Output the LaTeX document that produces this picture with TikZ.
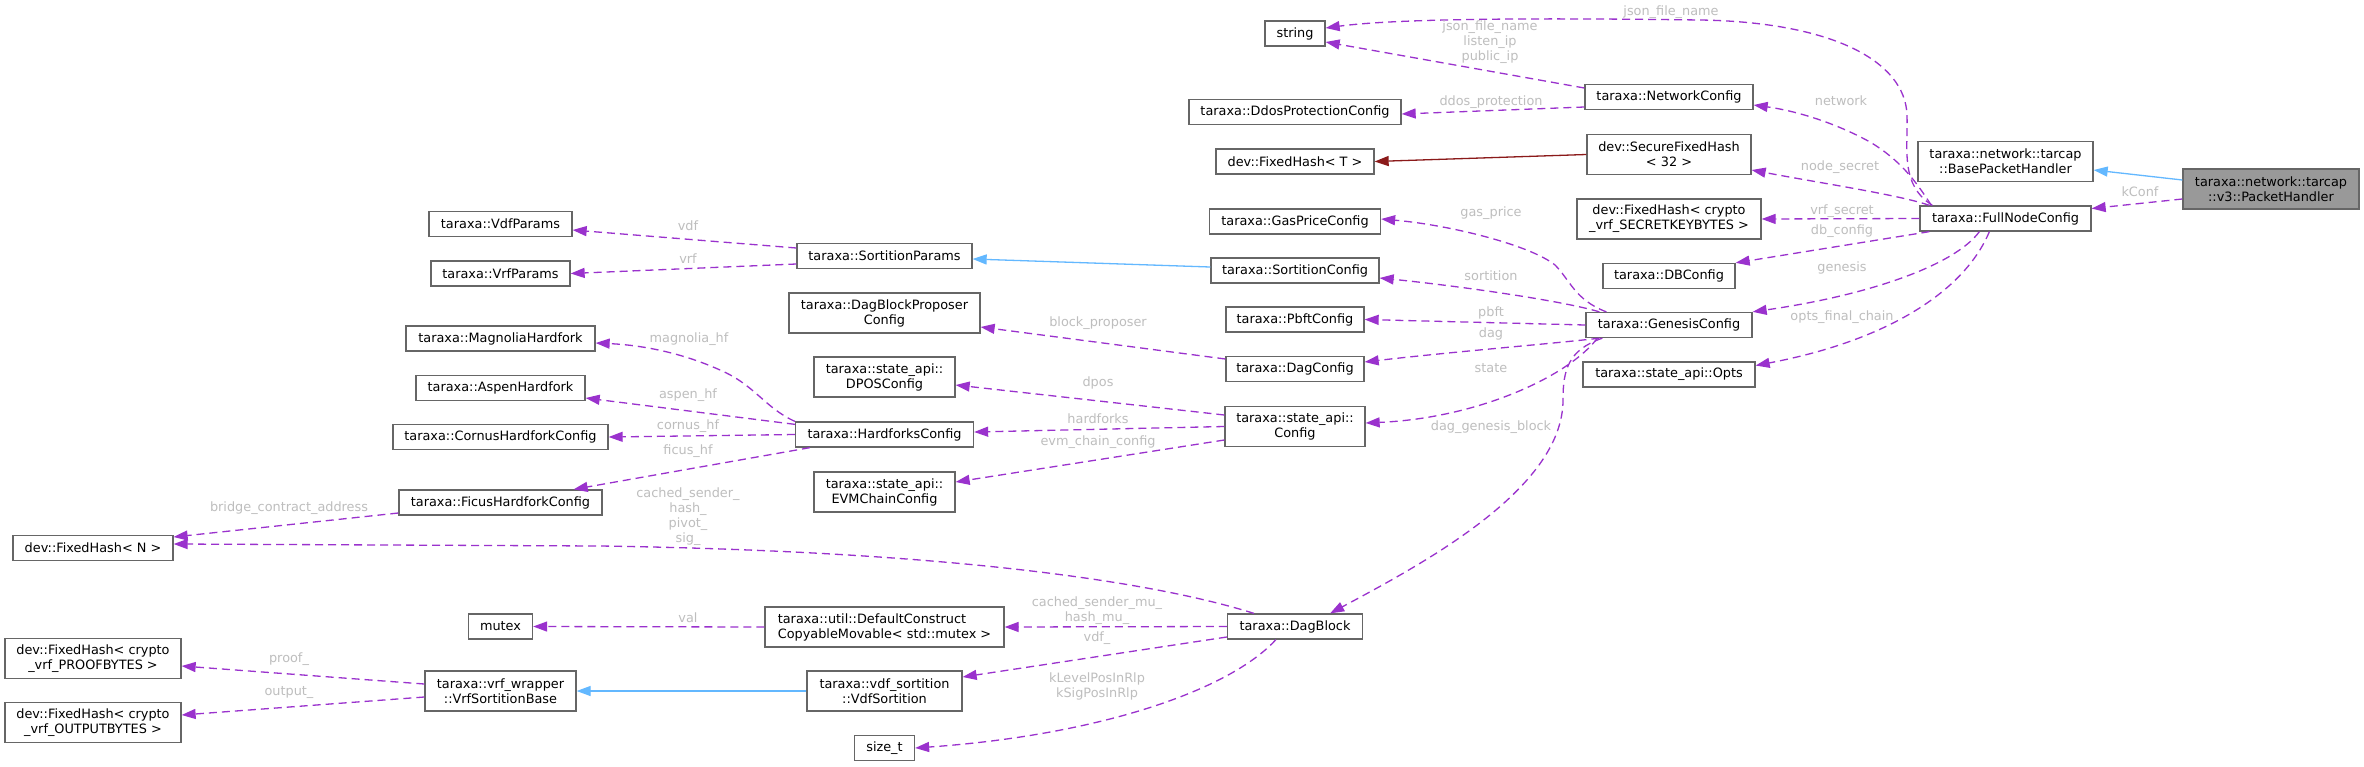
\documentclass[tikz,border=0pt]{standalone}
\usepackage{fontspec}
\setmainfont{DejaVu Sans}
\usetikzlibrary{arrows.meta}
\definecolor{boxgray}{HTML}{666666}
\definecolor{purp}{HTML}{9A32CD}
\definecolor{inhblue}{HTML}{63B8FF}
\definecolor{tred}{HTML}{8B1A1A}
\definecolor{lblgray}{HTML}{BEBEBE}
\definecolor{curgray}{HTML}{999999}
\begin{document}
\begin{tikzpicture}[x=1pt,y=-1pt,
  box/.style={draw=boxgray, line width=1.3pt, fill=white, font=\fontsize{12.85}{15}\selectfont, minimum height=25pt, inner xsep=3pt, inner ysep=2pt, align=center, text=black},
  box2/.style={box, minimum height=40pt},
  lbl/.style={font=\fontsize{12.85}{15}\selectfont, text=lblgray, align=center, inner sep=0pt},
  memb/.style={draw=purp, line width=1.3pt, dash pattern=on 8pt off 5pt, -{Triangle[length=14pt,width=10pt]}},
  inher/.style={draw=inhblue, line width=1.3pt, -{Triangle[length=14pt,width=10pt]}},
  tinst/.style={draw=tred, line width=1.3pt, -{Triangle[length=14pt,width=10pt]}}
]
\path[fill=white] (0,0) rectangle (2364,766);
\useasboundingbox (0,0) rectangle (2364,766);

% nodes
\node[box2, fill=curgray, minimum width=176pt] (ph) at (2271,189) {taraxa::network::tarcap\\::v3::PacketHandler};
\node[box2, minimum width=175pt] (bph) at (2005.5,161.5) {taraxa::network::tarcap\\::BasePacketHandler};
\node[box, minimum width=171pt] (fnc) at (2005.5,218.5) {taraxa::FullNodeConfig};

\node[box, minimum width=60pt] (str) at (1295,33.5) {string};
\node[box, minimum width=212pt] (ddos) at (1295,112) {taraxa::DdosProtectionConfig};
\node[box, minimum width=158pt] (fht) at (1295,161.5) {dev::FixedHash< T >};
\node[box, minimum width=171pt] (gas) at (1295,221.5) {taraxa::GasPriceConfig};
\node[box, minimum width=168pt] (sc) at (1295,270.5) {taraxa::SortitionConfig};
\node[box, minimum width=138pt] (pbft) at (1295,319.5) {taraxa::PbftConfig};
\node[box, minimum width=138pt] (dagc) at (1295,369) {taraxa::DagConfig};
\node[box2, minimum width=140pt] (cfg) at (1295,426.5) {taraxa::state\_api::\\Config};
\node[box, minimum width=135pt] (dagb) at (1295,626.5) {taraxa::DagBlock};

\node[box, minimum width=168pt] (net) at (1669,97) {taraxa::NetworkConfig};
\node[box2, minimum width=164pt] (sfh) at (1669,154.5) {dev::SecureFixedHash\\< 32 >};
\node[box2, minimum width=184pt] (fhsk) at (1669,219) {dev::FixedHash< crypto\\\_vrf\_SECRETKEYBYTES >};
\node[box, minimum width=132pt] (dbc) at (1669,276) {taraxa::DBConfig};
\node[box, minimum width=166pt] (gen) at (1669,325) {taraxa::GenesisConfig};
\node[box, minimum width=172pt] (opts) at (1669,374.5) {taraxa::state\_api::Opts};

\node[box, minimum width=175pt] (sp) at (884.5,256) {taraxa::SortitionParams};
\node[box2, minimum width=191pt] (dbp) at (884.5,313) {taraxa::DagBlockProposer\\Config};
\node[box2, minimum width=141pt] (dpos) at (884.5,377) {taraxa::state\_api::\\DPOSConfig};
\node[box, minimum width=178pt] (hfc) at (884.5,434.5) {taraxa::HardforksConfig};
\node[box2, minimum width=141pt] (evm) at (884.5,492) {taraxa::state\_api::\\EVMChainConfig};
\node[box2, minimum width=239pt, align=left] (dcm) at (884.5,627) {taraxa::util::DefaultConstruct\\CopyableMovable< std::mutex >};
\node[box2, minimum width=155pt] (vdfs) at (884.5,691) {taraxa::vdf\_sortition\\::VdfSortition};
\node[box, minimum width=60pt] (sizet) at (884.5,748) {size\_t};

\node[box, minimum width=143pt] (vdfp) at (500.5,224) {taraxa::VdfParams};
\node[box, minimum width=139pt] (vrfp) at (500.5,273.5) {taraxa::VrfParams};
\node[box, minimum width=189pt] (mag) at (500.5,338.5) {taraxa::MagnoliaHardfork};
\node[box, minimum width=169pt] (asp) at (500.5,388) {taraxa::AspenHardfork};
\node[box, minimum width=215pt] (cor) at (500.5,437) {taraxa::CornusHardforkConfig};
\node[box, minimum width=203pt] (fic) at (500.5,502.5) {taraxa::FicusHardforkConfig};
\node[box, minimum width=64pt] (mtx) at (500.5,626.5) {mutex};
\node[box2, minimum width=151pt] (vsb) at (500.5,691) {taraxa::vrf\_wrapper\\::VrfSortitionBase};

\node[box, minimum width=160pt] (fhn) at (93,548) {dev::FixedHash< N >};
\node[box2, minimum width=176pt] (fhp) at (93,658.5) {dev::FixedHash< crypto\\\_vrf\_PROOFBYTES >};
\node[box2, minimum width=176pt] (fho) at (93,722.5) {dev::FixedHash< crypto\\\_vrf\_OUTPUTBYTES >};

% edges
\draw[inher] ([yshift=9pt]ph.west) -- ([yshift=-8.5pt]bph.east);
\draw[memb] ([yshift=-10pt]ph.west) -- ([yshift=10pt]fnc.east);
\draw[memb] ([xshift=13pt]fnc.north west) .. controls (1900,185) and (1908,150) .. (1907,115) .. controls (1905,60) and (1830,22) .. (1700,20) .. controls (1550,18) and (1400,18) .. ([yshift=5.5pt]str.east);
\draw[memb] ([xshift=12pt]fnc.north west) .. controls (1915,180) and (1900,160) .. (1870,142) .. controls (1830,120) and (1790,110) .. ([yshift=-8pt]net.east);
\draw[memb] ([xshift=10pt]fnc.north west) .. controls (1900,195) and (1820,183) .. ([yshift=-15.5pt]sfh.east);
\draw[memb] (fnc.west) -- (fhsk.east);
\draw[memb] ([xshift=10pt]fnc.south west) -- (dbc.north east);
\draw[memb] ([xshift=60pt]fnc.south west) .. controls (1955,265) and (1870,295) .. (gen.north east);
\draw[memb] ([xshift=70pt]fnc.south west) .. controls (1965,290) and (1890,340) .. ([yshift=9pt]opts.east);

\draw[memb] ([yshift=9pt]net.west) -- ([yshift=-8.5pt]str.east);
\draw[memb] ([yshift=-10pt]net.west) -- ([yshift=-2pt]ddos.east);
\draw[tinst] (sfh.west) -- (fht.east);

\draw[memb] ([xshift=21pt]gen.north west) .. controls (1575,300) and (1570,280) .. (1555,265) .. controls (1530,245) and (1450,225) .. ([yshift=2.5pt]gas.east);
\draw[memb] ([xshift=14pt]gen.north west) .. controls (1560,300) and (1450,285) .. ([yshift=-7.5pt]sc.east);
\draw[memb] (gen.west) -- (pbft.east);
\draw[memb] ([xshift=14pt]gen.south west) .. controls (1560,343) and (1450,352) .. ([yshift=7pt]dagc.east);
\draw[memb] ([xshift=12pt]gen.south west) .. controls (1570,375) and (1480,418) .. ([yshift=3.5pt]cfg.east);
\draw[memb] ([xshift=17pt]gen.south west) .. controls (1568,350) and (1563,370) .. (1563,400) .. controls (1563,490) and (1420,565) .. ([xshift=-33pt]dagb.north east);

\draw[inher] ([yshift=3.5pt]sc.west) -- ([yshift=-3pt]sp.east);
\draw[memb] ([yshift=8pt]sp.west) -- ([yshift=-6pt]vdfp.east);
\draw[memb] ([yshift=-8pt]sp.west) -- (vrfp.east);
\draw[memb] ([yshift=10pt]dagc.west) -- ([yshift=-14pt]dbp.east);

\draw[memb] ([yshift=11.5pt]cfg.west) -- ([yshift=-8pt]dpos.east);
\draw[memb] (cfg.west) -- ([yshift=2.5pt]hfc.east);
\draw[memb] ([yshift=-13.5pt]cfg.west) -- ([yshift=10pt]evm.east);

\draw[memb] (hfc.north west) .. controls (765,408) and (755,385) .. (720,370) .. controls (680,352) and (640,345) .. ([yshift=-4.5pt]mag.east);
\draw[memb] ([yshift=-3pt]hfc.north west) -- ([yshift=-10pt]asp.east);
\draw[memb] (hfc.west) -- (cor.east);
\draw[memb] ([xshift=15pt]hfc.south west) -- ([xshift=-29pt]fic.north east);
\draw[memb] ([yshift=-10.5pt]fic.west) -- ([yshift=11pt]fhn.east);

\draw[memb] ([xshift=27pt]dagb.north west) .. controls (1180,590) and (1000,552) .. (600,546) -- ([yshift=4pt]fhn.east);
\draw[memb] (dagb.west) -- (dcm.east);
\draw[memb] ([yshift=-10.5pt]dagb.west) -- ([yshift=14pt]vdfs.east);
\draw[memb] ([xshift=49pt]dagb.south west) .. controls (1230,690) and (1100,735) .. (sizet.east);

\draw[memb] (dcm.west) -- (mtx.east);
\draw[inher] (vdfs.west) -- (vsb.east);
\draw[memb] ([yshift=7pt]vsb.west) -- ([yshift=-7.5pt]fhp.east);
\draw[memb] ([yshift=-6pt]vsb.west) -- ([yshift=7.5pt]fho.east);

% labels
\node[lbl] (l2) at (2140,192) {kConf};
\node[lbl] (l3) at (1671,12) {json\_file\_name};
\node[lbl] (l4) at (1841,101) {network};
\node[lbl] (l5) at (1840,167) {node\_secret};
\node[lbl] (l6) at (1842,211) {vrf\_secret};
\node[lbl] (l7) at (1842,231) {db\_config};
\node[lbl] (l8) at (1842,268) {genesis};
\node[lbl] (l9) at (1842,317) {opts\_final\_chain};
\node[lbl] (l10) at (1490,42) {json\_file\_name\\listen\_ip\\public\_ip};
\node[lbl] (l11) at (1491,102) {ddos\_protection};
\node[lbl] (l13) at (1491,213) {gas\_price};
\node[lbl] (l14) at (1491,276) {sortition};
\node[lbl] (l15) at (1491,313) {pbft};
\node[lbl] (l16) at (1491,334) {dag};
\node[lbl] (l17) at (1491,368) {state};
\node[lbl] (l18) at (1491,427) {dag\_genesis\_block};
\node[lbl] (l20) at (688,226) {vdf};
\node[lbl] (l21) at (688,259) {vrf};
\node[lbl] (l22) at (1098,323) {block\_proposer};
\node[lbl] (l23) at (1098,383) {dpos};
\node[lbl] (l24) at (1098,419) {hardforks};
\node[lbl] (l25) at (1098,442) {evm\_chain\_config};
\node[lbl] (l26) at (689,339) {magnolia\_hf};
\node[lbl] (l27) at (688,395) {aspen\_hf};
\node[lbl] (l28) at (688,426) {cornus\_hf};
\node[lbl] (l29) at (688,451) {ficus\_hf};
\node[lbl] (l30) at (289,508) {bridge\_contract\_address};
\node[lbl] (l31) at (688,516.5) {cached\_sender\_\\hash\_\\pivot\_\\sig\_};
\node[lbl] (l32) at (1097,610.5) {cached\_sender\_mu\_\\hash\_mu\_};
\node[lbl] (l33) at (1097,638) {vdf\_};
\node[lbl] (l34) at (1097,686.5) {kLevelPosInRlp\\kSigPosInRlp};
\node[lbl] (l35) at (688,618) {val};
\node[lbl] (l37) at (289,659) {proof\_};
\node[lbl] (l38) at (289,692) {output\_};
\end{tikzpicture}
\end{document}
